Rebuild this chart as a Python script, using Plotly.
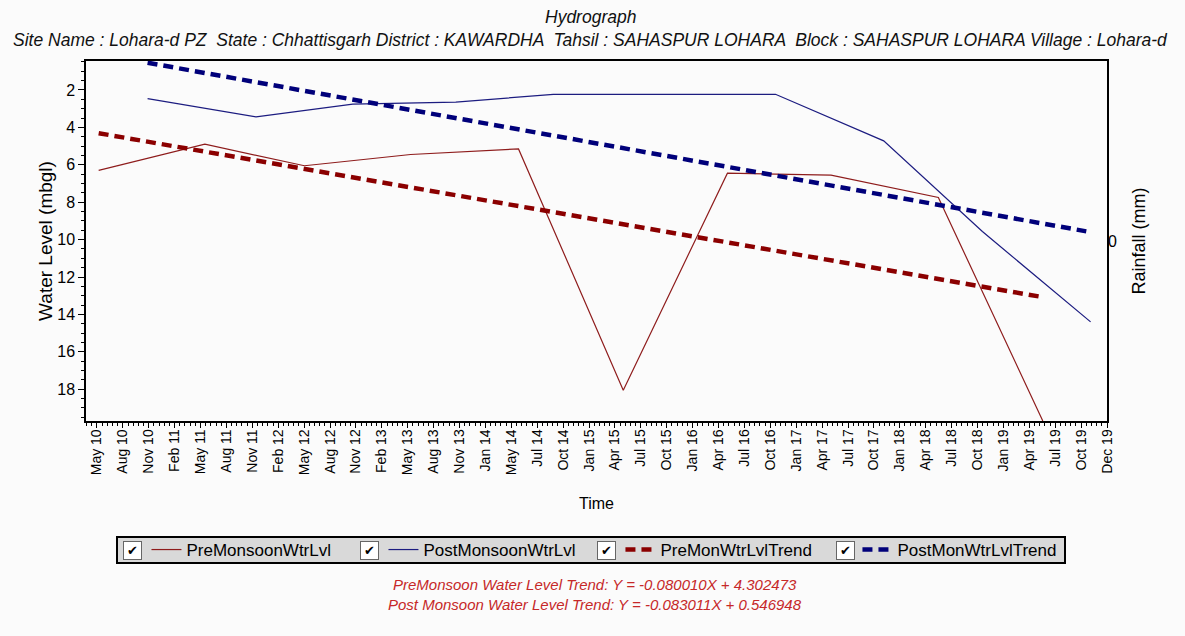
"""Hydrograph for Lohara-d PZ, rebuilt with Plotly."""

import plotly.graph_objects as go

# --- data --------------------------------------------------------------
PRE_DATES = ["2010-05-28", "2011-06-01", "2012-05-12", "2013-05-16", "2014-05-26",
             "2015-05-25", "2016-05-21", "2017-05-16", "2018-05-24", "2019-05-22"]
PRE_LEVELS = [6.3, 4.9, 6.05, 5.45, 5.15, 18.05, 6.45, 6.55, 7.75, 19.7]

POST_DATES = ["2010-11-14", "2011-11-26", "2012-10-27", "2013-10-20", "2014-09-24",
              "2016-11-04", "2017-11-15", "2018-10-24", "2019-11-04"]
POST_LEVELS = [2.46, 3.44, 2.76, 2.65, 2.23, 2.23, 4.72, 9.57, 14.4]

PRE_TREND_DATES = ["2010-05-28", "2019-05-12"]
PRE_TREND_LEVELS = [4.31, 13.05]
POST_TREND_DATES = ["2010-11-14", "2019-10-20"]
POST_TREND_LEVELS = [0.54, 9.56]

RAIN_DATES = []
RAIN_MM = []

TITLE = "Hydrograph"
SUBTITLE = ("Site Name : Lohara-d PZ  State : Chhattisgarh District : KAWARDHA  "
            "Tahsil : SAHASPUR LOHARA  Block : SAHASPUR LOHARA Village : Lohara-d")
TREND_NOTES = [
    "PreMonsoon Water Level Trend: Y = -0.080010X + 4.302473",
    "Post Monsoon Water Level Trend: Y = -0.083011X + 0.546948",
]

FONT = "Liberation Sans, Arial, sans-serif"
DAY_MS = 86400000

# plot area in pixels (left, top, right, bottom)
L, T, R, B = 86, 61, 1107, 421


def px_x(p):
    return (p - L) / (R - L)


def px_y(p):
    return (B - p) / (B - T)


fig = go.Figure()
fig.add_trace(go.Scatter(x=PRE_DATES, y=PRE_LEVELS, name="PreMonsoonWtrLvl",
                         mode="lines", line=dict(color="#8e1c1c", width=1.2)))
fig.add_trace(go.Scatter(x=POST_DATES, y=POST_LEVELS, name="PostMonsoonWtrLvl",
                         mode="lines", line=dict(color="#1c1c80", width=1.2)))
fig.add_trace(go.Scatter(x=PRE_TREND_DATES, y=PRE_TREND_LEVELS, name="PreMonWtrLvlTrend",
                         mode="lines", line=dict(color="#8b0000", width=4.5, dash="10px,6px")))
fig.add_trace(go.Scatter(x=POST_TREND_DATES, y=POST_TREND_LEVELS, name="PostMonWtrLvlTrend",
                         mode="lines", line=dict(color="#00007a", width=4.5, dash="10px,6px")))
fig.add_trace(go.Scatter(x=RAIN_DATES, y=RAIN_MM, yaxis="y2", showlegend=False,
                         mode="lines", name="Rainfall"))

annotations = [
    dict(text=TITLE, x=px_x(590), y=px_y(17)),
    dict(text=SUBTITLE, x=px_x(590), y=px_y(40)),
    dict(text=TREND_NOTES[0], x=px_x(595), y=px_y(584),
         font=dict(family=FONT, size=15, color="#c62828")),
    dict(text=TREND_NOTES[1], x=px_x(595), y=px_y(604),
         font=dict(family=FONT, size=15, color="#c62828")),
]
for a in annotations:
    a.update(xref="paper", yref="paper", showarrow=False, xanchor="center",
             yanchor="middle")
    a.setdefault("font", dict(family=FONT, size=17.5, color="#111"))
    a["text"] = "<i>" + a["text"] + "</i>"

# fake checkboxes in front of each legend entry
for cx in [132, 369, 606, 845]:
    annotations.append(dict(
        text="<b>✔</b>", x=px_x(cx), y=px_y(550), xref="paper", yref="paper",
        xanchor="center", yanchor="middle",
        showarrow=False, width=17, height=17, bgcolor="white",
        bordercolor="#666", borderwidth=1, borderpad=0,
        font=dict(family="DejaVu Sans", size=13, color="black")))

# grey legend panel drawn behind the (transparent) legend
shapes = [dict(type="rect", xref="paper", yref="paper",
               x0=px_x(117), x1=px_x(1065), y0=px_y(537), y1=px_y(563),
               fillcolor="#d9d9d9", line=dict(color="black", width=2), layer="below")]

axis_font = dict(family=FONT, size=14, color="black")

fig.update_layout(
    width=1185,
    height=636,
    margin=dict(l=L, r=1185 - R, t=T, b=636 - B),
    paper_bgcolor="#fbfbfb",
    plot_bgcolor="#fbfbfb",
    font=axis_font,
    showlegend=True,
    legend=dict(
        orientation="h", x=px_x(117), xanchor="left", y=px_y(550), yanchor="middle",
        bgcolor="rgba(0,0,0,0)", borderwidth=0,
        font=dict(family=FONT, size=17, color="black"),
        entrywidth=192, itemwidth=30,
        title=dict(text="\u00a0" * 5, font=dict(size=14)),
    ),
    xaxis=dict(
        type="date",
        range=["2010-04-14", "2019-12-31"],
        tick0="2010-05-22", dtick=90 * DAY_MS, tickformat="%b %y",
        tickangle=-90, ticks="outside", ticklen=5, tickcolor="black",
        ticklabelstandoff=-4,
        minor=dict(ticks="outside", ticklen=3, tickcolor="black",
                   tick0="2010-05-22", dtick=18 * DAY_MS, showgrid=False),
        showline=True, linecolor="black", linewidth=1.5, mirror=True,
        showgrid=False, zeroline=False,
        title=dict(text="Time", font=dict(family=FONT, size=16), standoff=24),
        tickfont=axis_font,
    ),
    yaxis=dict(
        range=[19.7, 0.45], tick0=0, dtick=2,
        ticks="outside", ticklen=6, tickcolor="black",
        minor=dict(ticks="outside", ticklen=3, tickcolor="black", dtick=0.5,
                   showgrid=False),
        showline=True, linecolor="black", linewidth=1.5, mirror=True,
        showgrid=False, zeroline=False,
        title=dict(text="Water Level (mbgl)", font=dict(family=FONT, size=19), standoff=0),
        tickfont=dict(family=FONT, size=16, color="black"),
    ),
    yaxis2=dict(
        overlaying="y", side="right", range=[-1, 1], tickvals=[0],
        ticks="", showgrid=False, zeroline=False, showline=False,
        title=dict(text="Rainfall (mm)", font=dict(family=FONT, size=18), standoff=16),
        tickfont=dict(family=FONT, size=16, color="black"),
    ),
    shapes=shapes,
    annotations=annotations,
)

fig.write_html("out.html", config={"displayModeBar": False},
               post_script="document.body.style.margin='0';")
